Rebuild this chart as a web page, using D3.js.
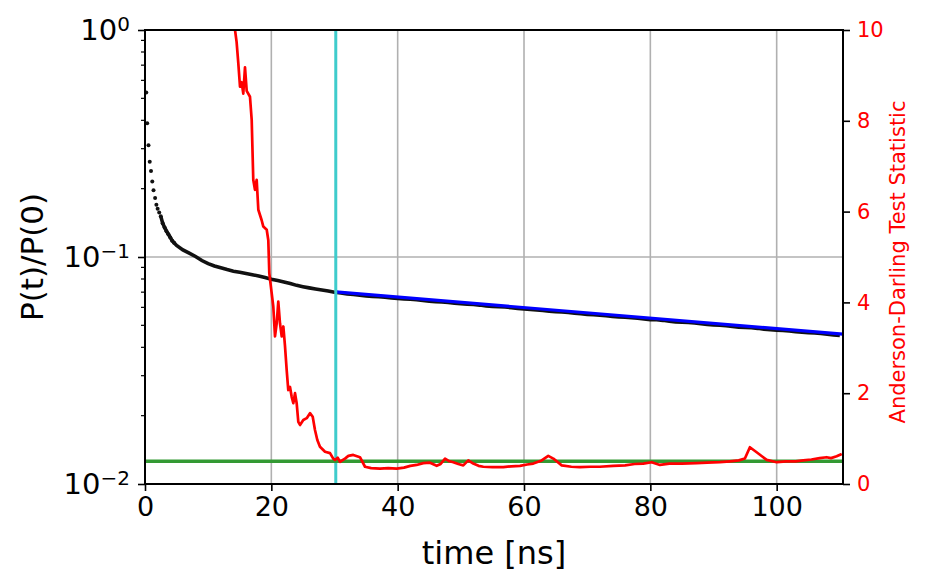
<!DOCTYPE html>
<html><head><meta charset="utf-8">
<script src="https://cdn.jsdelivr.net/npm/d3@7"></script>
<style>body{margin:0;background:#fff} text{font-family:"DejaVu Sans",sans-serif}</style>
</head><body><svg id="c" width="926" height="584"></svg>
<script>
// ---- data ----
const survivalTime = [0.2,0.35,0.55,0.75,0.95,1.15,1.35,1.6,1.8,2.0,2.25,2.5,2.8,3.1,3.4,3.7,4.0,4.3,4.6,
  5,6,7,8,9,10,11,12,13,14,15,16,17,18,19,20,21,22,23,24,25,26,27,28,29,
  30,31,32,33,34,35,36,37,38,39,40,41,42,43,44,45,46,47,48,49,50,51,52,53,54,55,56,57,58,59,
  60,61,62,63,64,65,66,67,68,69,70,71,72,73,74,75,76,77,78,79,80,81,82,83,84,85,86,87,88,89,
  90,91,92,93,94,95,96,97,98,99,100,101,102,103,104,105,106,107,108,109,110];
const survivalValue = [0.53,0.388,0.311,0.263,0.239,0.215,0.197,0.182,0.170,0.163,0.157,0.151,0.141,0.135,0.130,0.126,0.122,0.118,0.1155,
  0.1125,0.1075,0.1040,0.1005,0.0965,0.0935,0.0913,0.0896,0.0880,0.0866,0.0856,0.0846,0.0836,0.0824,0.0812,0.0798,0.0787,0.0776,0.0764,0.0750,0.0740,0.0731,0.0723,0.0716,0.0709,
  0.0700,0.0694,0.0688,0.0684,0.0679,0.0674,0.0671,0.0669,0.0665,0.0660,0.0656,0.0653,0.0651,0.0648,0.0643,0.0639,0.0636,0.0634,0.0631,0.0626,0.0622,0.0620,0.0618,0.0614,0.0609,0.0606,0.0604,0.0602,0.0598,0.0593,
  0.0590,0.0588,0.0585,0.0582,0.0577,0.0574,0.0572,0.0570,0.0566,0.0562,0.0559,0.0557,0.0554,0.0551,0.0547,0.0544,0.0543,0.0540,0.0537,0.0533,0.0530,0.0529,0.0526,0.0522,0.0518,0.0516,0.0515,0.0512,0.0508,0.0505,
  0.0502,0.0501,0.0498,0.0494,0.0491,0.0489,0.0488,0.0485,0.0481,0.0478,0.0476,0.0475,0.0472,0.0469,0.0466,0.0464,0.0463,0.0460,0.0457,0.0454,0.0451];
const fitTime = [30.2, 110.5];
const fitValue = [0.0702, 0.0457];
const adTime = [14.0,14.25,14.5,14.77,15.04,15.3,15.56,15.83,16.1,16.62,16.89,17.14,17.41,17.68,17.94,18.47,18.73,19.27,19.52,19.68,19.9,
  20.31,20.58,20.85,21.1,21.37,21.64,21.9,22.16,22.43,22.68,22.95,23.22,23.48,23.75,24.01,24.27,24.54,25.06,25.6,26.12,26.55,26.91,27.28,27.7,28.5,29.29,29.8,30.08,30.5,30.87,31.66,32.2,32.97,34.03,34.83,
  35.8,37.2,38.5,39.84,41.0,42.0,43.0,44.06,45.12,46.18,46.8,47.5,48.2,48.81,49.6,50.39,51.18,51.97,52.8,53.56,55.0,56.72,58.0,59.36,60.5,61.47,62.8,63.84,64.64,65.97,67.5,68.86,70.5,72.0,74.13,76.0,77.5,78.88,80.21,81.52,83.0,85.0,87.33,89.0,91.0,92.6,94.0,94.97,95.76,96.83,98.42,100.0,101.5,103.0,104.2,105.5,106.8,107.9,108.6,109.5,110.3];
const adValue = [10.6,10.0,9.74,9.27,8.75,8.85,8.6,9.18,8.66,8.53,8.02,6.70,6.48,6.70,6.04,5.81,5.67,5.6,5.37,4.64,4.38,
  3.91,3.25,3.54,4.02,3.54,3.25,3.47,3.04,2.51,2.07,2.14,1.92,1.78,2.0,1.78,1.37,1.30,1.41,1.45,1.56,1.48,1.19,0.97,0.82,0.71,0.68,0.56,0.53,0.58,0.49,0.56,0.62,0.64,0.59,0.38,
  0.35,0.34,0.35,0.34,0.36,0.40,0.42,0.46,0.47,0.40,0.44,0.56,0.50,0.48,0.44,0.41,0.52,0.45,0.40,0.38,0.37,0.37,0.39,0.40,0.43,0.45,0.52,0.62,0.56,0.41,0.38,0.37,0.38,0.38,0.40,0.41,0.44,0.45,0.48,0.42,0.45,0.45,0.46,0.47,0.48,0.50,0.52,0.56,0.81,0.70,0.53,0.48,0.50,0.50,0.52,0.54,0.57,0.59,0.57,0.61,0.66];
const cutoffTime = 30.2;
const adThreshold = 0.5;
const xTicks = [0,20,40,60,80,100];
const yLeftTicks = [1, 0.1, 0.01];
const yLeftTickExp = ["0","\u22121","\u22122"];
const yRightTicks = [0,2,4,6,8,10];

// ---- layout ----
const L = 145, R = 843, T = 30, B = 484;
const svg = d3.select("#c");
const x = d3.scaleLinear().domain([0,110.5]).range([L,R]);
const yL = d3.scaleLog().domain([0.01,1]).range([B,T]);
const yR = d3.scaleLinear().domain([0,10]).range([B,T]);

svg.append("defs").append("clipPath").attr("id","clip")
  .append("rect").attr("x",L).attr("y",T).attr("width",R-L).attr("height",B-T);

// grid
const grid = svg.append("g").attr("stroke","#b0b0b0").attr("stroke-width",1.6);
xTicks.filter(t=>t>0).forEach(t=>grid.append("line").attr("x1",x(t)).attr("x2",x(t)).attr("y1",T).attr("y2",B));
yLeftTicks.forEach(v=>grid.append("line").attr("x1",L).attr("x2",R).attr("y1",yL(v)).attr("y2",yL(v)));

const plot = svg.append("g").attr("clip-path","url(#clip)");
const surv = survivalTime.map((t,i)=>({t, v:survivalValue[i]}));
plot.append("path").datum(surv.filter(d=>d.t>=2.4))
  .attr("fill","none").attr("stroke","#111").attr("stroke-width",3.6)
  .attr("d", d3.line().x(d=>x(d.t)).y(d=>yL(d.v)));
plot.append("g").selectAll("circle").data(surv.filter(d=>d.t<5)).join("circle")
  .attr("cx",d=>x(d.t)).attr("cy",d=>yL(d.v)).attr("r",2).attr("fill","#111");

const fit = fitTime.map((t,i)=>({t, v:fitValue[i]}));
plot.append("path").datum(fit).attr("fill","none").attr("stroke","#0000ff").attr("stroke-width",3.2)
  .attr("d", d3.line().x(d=>x(d.t)).y(d=>yL(d.v)));

plot.append("line").attr("x1",x(cutoffTime)).attr("x2",x(cutoffTime)).attr("y1",T).attr("y2",B)
  .attr("stroke","#3fcccc").attr("stroke-width",3);
plot.append("line").attr("x1",L).attr("x2",R).attr("y1",yR(adThreshold)).attr("y2",yR(adThreshold))
  .attr("stroke","#339933").attr("stroke-width",3.5);

const ad = adTime.map((t,i)=>({t, v:adValue[i]}));
plot.append("path").datum(ad).attr("fill","none").attr("stroke","#ff0000").attr("stroke-width",2.7)
  .attr("stroke-linejoin","round")
  .attr("d", d3.line().x(d=>x(d.t)).y(d=>yR(d.v)));

// frame
svg.append("rect").attr("x",L).attr("y",T).attr("width",R-L).attr("height",B-T)
  .attr("fill","none").attr("stroke","#000").attr("stroke-width",2);

// axes
const ax = svg.append("g").attr("transform",`translate(0,${B})`)
  .call(d3.axisBottom(x).tickValues(xTicks).tickSize(7).tickPadding(6).tickFormat(d3.format("d")));
ax.select(".domain").remove();
ax.selectAll("line").attr("stroke-width",1.6);
ax.selectAll("text").attr("font-size",27).attr("fill","#000").attr("font-family","DejaVu Sans");

const ayl = svg.append("g").attr("transform",`translate(${L},0)`)
  .call(d3.axisLeft(yL).tickValues(yLeftTicks).tickSize(7).tickPadding(8).tickFormat(""));
ayl.select(".domain").remove();
ayl.selectAll("line").attr("stroke-width",1.6);
ayl.selectAll(".tick text").each(function(d,i){
  const t = d3.select(this).attr("font-size",29).attr("fill","#000").attr("font-family","DejaVu Sans");
  t.append("tspan").text("10");
  t.append("tspan").attr("dy","-0.45em").attr("font-size",20).text(yLeftTickExp[i]);
});
const minor = [];
[0.01,0.1].forEach(dec=>{for(let k=2;k<=9;k++) minor.push(dec*k);});
svg.append("g").selectAll("line").data(minor).join("line")
  .attr("x1",L-4).attr("x2",L).attr("y1",d=>yL(d)).attr("y2",d=>yL(d))
  .attr("stroke","#000").attr("stroke-width",1.2);

const ayr = svg.append("g").attr("transform",`translate(${R},0)`)
  .call(d3.axisRight(yR).tickValues(yRightTicks).tickSize(7).tickPadding(7).tickFormat(d3.format("d")));
ayr.select(".domain").remove();
ayr.selectAll("line").attr("stroke-width",1.6);
ayr.selectAll("text").attr("font-size",21).attr("fill","#ff0000").attr("font-family","DejaVu Sans");

// labels
svg.append("text").attr("x",(L+R)/2).attr("y",564).attr("text-anchor","middle")
  .attr("font-size",32).text("time [ns]");
svg.append("text").attr("transform",`translate(43,${(T+B)/2}) rotate(-90)`).attr("text-anchor","middle")
  .attr("font-size",31).text("P(t)/P(0)");
svg.append("text").attr("transform",`translate(905,${(T+B)/2 + 5}) rotate(-90)`).attr("text-anchor","middle")
  .attr("font-size",21).attr("fill","#ff0000").text("Anderson-Darling Test Statistic");
</script></body></html>
